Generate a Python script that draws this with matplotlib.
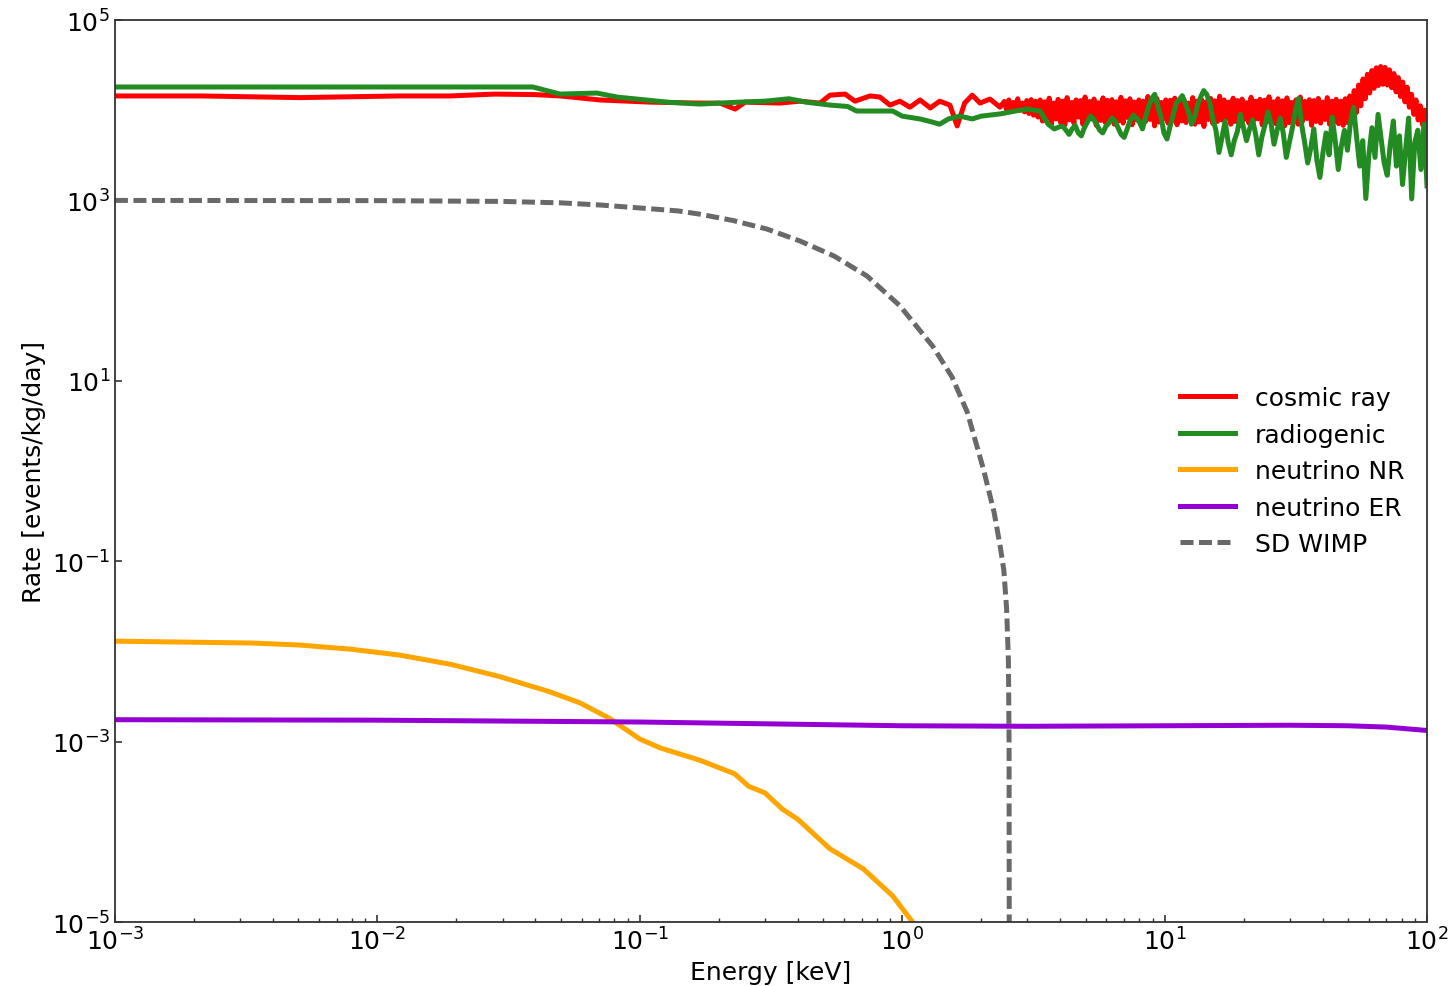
import matplotlib
matplotlib.use('Agg')
import matplotlib.pyplot as plt
import numpy as np

# ---- data (energies in keV, rates in events/kg/day) ----

# cosmic ray: smooth-ish low-energy part
cr_energy = [0.001, 0.00211, 0.00507, 0.00787, 0.0122, 0.0189, 0.0281, 0.0399, 0.0497,
             0.0705, 0.109, 0.169, 0.202, 0.231, 0.252, 0.342, 0.408, 0.486, 0.531,
             0.606, 0.661, 0.754, 0.823, 0.898, 0.98, 1.07, 1.17, 1.28, 1.39, 1.52,
             1.62, 1.73, 1.85, 1.98, 2.16, 2.36]
cr_rate_k = [14.4, 14.4, 13.8, 14.1, 14.4, 14.4, 15.1, 14.9, 14.4,
             13.0, 12.3, 12.0, 12.0, 10.3, 12.3, 12.0, 12.6, 12.0, 14.7,
             15.1, 12.6, 14.4, 14.0, 11.4, 12.6, 10.8, 13.0, 10.6, 12.6, 11.4,
             6.7, 12.0, 14.7, 12.0, 13.3, 10.8]
# cosmic ray: dense noisy band 2.4 - 46 keV (values in 1e3)
cr_band_k = [12.5, 10.2, 13.0, 9.8, 12.2, 10.8, 13.4, 10.0, 12.0, 9.6, 12.8, 9.2, 13.1, 8.8, 12.6, 8.4,
             13.0, 7.6, 12.4, 8.2, 13.6, 7.0, 12.0, 8.0, 13.2, 7.4,
             12.6, 6.9, 13.8, 7.8, 12.2, 7.2, 13.0, 8.4, 12.8, 7.0,
             14.0, 7.5, 12.5, 8.0, 13.3, 6.8, 12.1, 7.7, 13.7, 7.3,
             12.9, 8.1, 13.1, 7.0, 12.4, 7.6, 13.9, 7.2, 12.7, 8.3,
             13.4, 6.9, 12.3, 7.8, 13.0, 7.1, 12.6, 7.5, 14.2, 7.9,
             12.8, 6.7, 13.5, 7.4, 12.2, 8.0, 13.0, 7.2, 12.9, 7.7,
             13.6, 6.9, 12.5, 7.6, 13.2, 7.3, 12.0, 8.2, 13.8, 7.0,
             12.6, 7.4, 13.1, 6.6, 12.4, 7.9, 13.5, 7.1, 12.7, 7.5,
             14.3, 7.8, 13.0, 8.1, 12.3, 7.0, 13.6, 7.5, 12.8, 6.8,
             13.3, 7.9, 12.1, 7.2, 13.9, 7.6, 12.6, 8.0, 13.2, 6.9,
             12.9, 7.4, 14.1, 7.7, 12.4, 7.1, 13.4, 8.2, 12.7, 6.7,
             13.7, 7.3, 12.2, 7.8, 13.0, 7.0, 14.0, 7.6, 12.5, 8.1,
             13.1, 6.8, 12.8, 7.5, 13.5, 7.2, 12.3, 7.9, 13.8, 7.0,
             12.6, 7.4, 13.2, 7.1]
# cosmic ray: peak region 47 - 100 keV
cr_peak_k = [12.6, 6.8, 13.4, 7.3, 14.4, 8.0, 16.5, 9.4, 19.0, 11.2,
             22.2, 13.4, 25.0, 15.5, 27.5, 17.5, 29.5, 18.8, 30.5, 19.4,
             29.8, 19.0, 28.0, 17.8, 25.5, 16.0, 23.0, 14.2, 20.5, 12.4,
             18.0, 10.8, 15.0, 9.0, 13.0, 7.8, 11.2, 6.9, 10.0, 6.4]

# radiogenic: low-energy part
rg_energy = [0.001, 0.0391, 0.0497, 0.0687, 0.0819, 0.127, 0.169, 0.241, 0.30, 0.37,
             0.43, 0.531, 0.62, 0.67, 0.92, 1.0, 1.17, 1.3, 1.39, 1.5, 1.66, 1.85,
             2.0, 2.36, 2.7, 3.0, 3.35, 3.6, 3.8, 4.0]
rg_rate_k = [18.1, 18.1, 15.1, 15.5, 14.0, 12.3, 11.7, 12.3, 12.6, 13.4,
             12.3, 11.4, 11.0, 9.8, 9.8, 8.6, 8.0, 7.4, 7.0, 8.0, 8.6, 8.0,
             8.6, 9.1, 9.8, 10.3, 9.8, 7.0, 6.2, 6.6]
# radiogenic: noisy part 4.1 - 100 keV (values in 1e3)
rg_band_k = [6.6, 6.0, 5.4, 6.2, 6.8, 5.6, 5.2, 6.4, 7.4, 8.6, 8.0, 7.0, 6.0, 5.6, 6.6, 7.2,
             8.2, 7.6, 6.4, 5.4, 5.0, 6.2, 7.8, 8.8, 8.2, 7.4,
             6.2, 8.4, 11.0, 13.5, 15.0, 11.0, 8.6, 5.6, 4.8, 6.6, 8.8, 12.0, 13.0,
             14.5, 12.0, 9.6, 7.0, 8.4, 11.5, 14.0, 16.5, 15.0, 12.0, 8.0, 6.0,
             3.4, 5.0, 7.6, 4.4, 3.2, 4.6, 5.8, 9.0, 6.4, 4.6, 6.2, 7.8, 5.4, 3.2,
             5.0, 6.8, 9.6, 7.2, 4.2, 6.0,
             8.2, 5.6, 3.0, 4.4, 6.4, 10.0, 13.5, 7.0, 4.4, 2.6, 3.8, 6.2, 2.8, 1.8,
             3.4, 5.6, 3.2, 8.4, 4.6, 2.2, 4.0, 6.0, 3.6, 7.4, 10.8, 5.0, 2.4, 4.6,
             1.05, 3.2, 6.4, 3.0, 9.0, 4.8, 2.6, 1.9, 4.2, 7.6, 2.4, 5.2, 1.5, 3.6,
             8.2, 1.04, 4.4, 6.0, 2.2, 7.0, 1.45]

# neutrino NR
nr_energy = [0.001, 0.0033, 0.005, 0.0079, 0.0122, 0.019, 0.029, 0.045, 0.059, 0.077,
             0.10, 0.12, 0.17, 0.23, 0.26, 0.30, 0.35, 0.40, 0.53, 0.71, 0.92, 1.11]
nr_rate = [0.0130, 0.0124, 0.0118, 0.0106, 0.0091, 0.0072, 0.0053, 0.0036, 0.0027, 0.0018,
           0.00107, 0.00085, 0.00062, 0.00044, 0.00032, 0.00027, 0.000178, 0.000138,
           6.5e-5, 3.9e-5, 1.95e-5, 9.5e-6]

# neutrino ER
er_energy = [0.001, 0.01, 0.1, 1.0, 3.0, 10.0, 30.0, 50.0, 70.0, 100.0]
er_rate = [1.75e-3, 1.73e-3, 1.65e-3, 1.5e-3, 1.48e-3, 1.5e-3, 1.52e-3, 1.5e-3, 1.45e-3, 1.33e-3]

# SD WIMP
wimp_energy = [0.001, 0.01, 0.03, 0.05, 0.0705, 0.1, 0.14, 0.169, 0.226, 0.305, 0.408,
               0.55, 0.735, 0.98, 1.31, 1.55, 1.77, 2.04, 2.24, 2.36, 2.44, 2.5, 2.54,
               2.555, 2.56]
wimp_rate = [1000, 995, 975, 940, 890, 825, 765, 705, 600, 482, 355,
             242, 145, 68, 24, 11, 4.5, 1.05, 0.35, 0.15, 0.08, 0.03, 0.008,
             1e-3, 1e-6]


def create_plot():
    plt.rcParams['font.family'] = 'DejaVu Sans'
    fig = plt.figure(figsize=(14.53, 9.87), dpi=100)
    ax = fig.add_axes([0.0791, 0.0648, 0.9030, 0.9139])

    # assemble the noisy series (grids for the dense parts)
    cr_x = np.concatenate([cr_energy,
                           np.geomspace(2.45, 46.0, len(cr_band_k)),
                           np.geomspace(47.0, 100.0, len(cr_peak_k))])
    cr_y = np.concatenate([cr_rate_k, cr_band_k, cr_peak_k]) * 1e3
    rg_x = np.concatenate([rg_energy, np.geomspace(4.1, 100.0, len(rg_band_k))])
    rg_y = np.concatenate([rg_rate_k, rg_band_k]) * 1e3

    lw = 3.6
    ax.plot(cr_x, cr_y, color='red', lw=lw, label='cosmic ray')
    ax.plot(rg_x, rg_y, color='forestgreen', lw=lw, label='radiogenic')
    ax.plot(nr_energy, nr_rate, color='orange', lw=lw, label='neutrino NR')
    ax.plot(er_energy, er_rate, color='darkviolet', lw=lw, label='neutrino ER')
    ax.plot(wimp_energy, wimp_rate, color='dimgray', lw=lw, ls='--', dashes=(2.6, 1.1),
            label='SD WIMP')

    ax.set_xscale('log')
    ax.set_yscale('log')
    ax.set_xlim(1e-3, 1e2)
    ax.set_ylim(1e-5, 1e5)
    ax.set_yticks([1e-5, 1e-3, 1e-1, 1e1, 1e3, 1e5])
    ax.yaxis.set_minor_locator(matplotlib.ticker.NullLocator())

    ax.tick_params(which='both', direction='in', labelsize=18, color='#333333')
    ax.tick_params(which='major', length=5, width=1.2)
    ax.tick_params(which='minor', length=3, width=1.0)
    for sp in ax.spines.values():
        sp.set_linewidth(1.3)
        sp.set_color('#333333')

    ax.set_xlabel('Energy [keV]', fontsize=18, labelpad=4)
    ax.set_ylabel('Rate [events/kg/day]', fontsize=18, labelpad=4)

    ax.legend(loc='center right', frameon=False, fontsize=18, handlelength=2.2)

    fig.savefig('out.png', dpi=100)


if __name__ == "__main__":
    create_plot()
